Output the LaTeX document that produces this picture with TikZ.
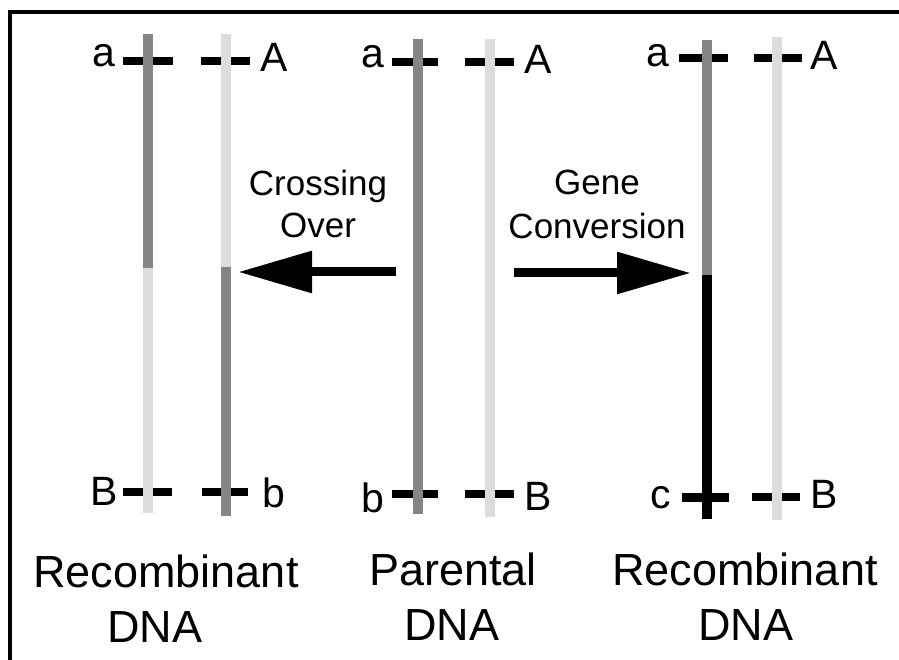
\documentclass[tikz,border=0pt]{standalone}
\usepackage{fontspec}
\setmainfont{Liberation Sans}
\usetikzlibrary{arrows.meta}
\definecolor{dnaDark}{HTML}{858585}
\definecolor{dnaLight}{HTML}{DCDCDC}
\tikzset{strand/.style = {line width=9.5pt},
         locus/.style = {line width=8pt, black},
         bigarrow/.style = {line width=9pt, -{Triangle[length=74pt, width=40pt]}},
         allele/.style = {anchor=base, inner sep=0pt, font=\fontsize{41}{41}\selectfont},
         steplabel/.style = {anchor=base, inner sep=0pt, font=\fontsize{35}{35}\selectfont},
         dnalabel/.style = {anchor=base, inner sep=0pt, font=\fontsize{45}{45}\selectfont}}

\begin{document}
\begin{tikzpicture}[x=1pt, y=-1pt]
\useasboundingbox (0,0) rectangle (899,660);
\draw[line width=3.5pt] (899,12) -- (10,12) -- (10,660);

% loci marks, under the strands
\draw[locus] (123,61) -- (173,61);
\draw[locus] (201,61) -- (250,61);
\draw[locus] (392,62) -- (438,62);
\draw[locus] (465,62) -- (514,62);
\draw[locus] (679,58) -- (728,58);
\draw[locus] (754,58) -- (802,58);
\draw[locus] (123,492) -- (172,492);
\draw[locus] (202,492) -- (248,492);
\draw[locus] (392,494) -- (438,494);
\draw[locus] (465,494) -- (514,494);
\draw[locus, line width=9pt] (682,497) -- (729,497);
\draw[locus] (752,497) -- (800,497);

% strands
\draw[strand, dnaDark] (148,34) -- (148,268);
\draw[strand, dnaLight] (148,268) -- (148,513);
\draw[strand, dnaLight] (226,34) -- (226,267);
\draw[strand, dnaDark] (226,267) -- (226,516);
\draw[strand, dnaDark] (418,39) -- (418,514);
\draw[strand, dnaLight] (490,39) -- (490,517);
\draw[strand, dnaDark] (707,40) -- (707,275);
\draw[strand, black] (707,275) -- (707,519);
\draw[strand, dnaLight] (777,37) -- (777,520);

% alleles
\node[allele] (aLeft) at (104,67) {a};
\node[allele] (ALeft) at (274,72) {A};
\node[allele] (aMid) at (373,68) {a};
\node[allele] (AMid) at (538,74) {A};
\node[allele] (aRight) at (658,67) {a};
\node[allele] (ARight) at (824,70) {A};
\node[allele] (BLeft) at (104,505) {B};
\node[allele] (bLeft) at (274,507) {b};
\node[allele] (bMid) at (373,512) {b};
\node[allele] (BMid) at (538,510) {B};
\node[allele] (cRight) at (661,508) {c};
\node[allele] (BRight) at (824,508) {B};

% arrows
\node[steplabel] (cross) at (318,196) {Crossing};
\node[steplabel] (crossOver) at (318,238) {Over};
\node[steplabel] (gene) at (597,195) {Gene};
\node[steplabel] (geneConv) at (597,239) {Conversion};
\coordinate (crossFrom) at (396,272);
\coordinate (crossTo) at (238,272);
\coordinate (convFrom) at (514,273);
\coordinate (convTo) at (691,273);
\draw[bigarrow] (crossFrom) -- (crossTo);
\draw[bigarrow] (convFrom) -- (convTo);

% captions
\node[dnalabel] (recLeft) at (166,587) {Recombinant};
\node[dnalabel] (recLeftDna) at (155,642) {DNA};
\node[dnalabel] (par) at (453,585) {Parental};
\node[dnalabel] (parDna) at (452,640) {DNA};
\node[dnalabel] (recRight) at (745,585) {Recombinant};
\node[dnalabel] (recRightDna) at (746,640) {DNA};
\end{tikzpicture}
\end{document}
